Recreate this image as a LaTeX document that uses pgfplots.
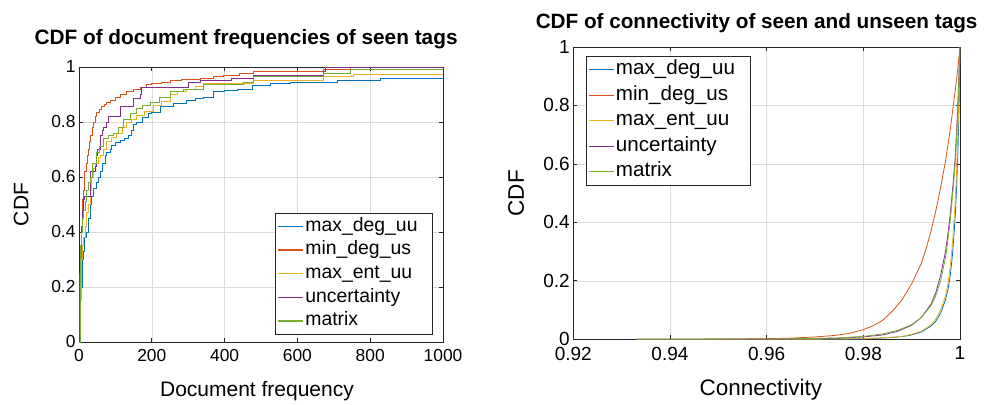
\documentclass[border=0pt]{standalone}
\usepackage{pgfplots}
\pgfplotsset{compat=1.18}
\usepackage{fontspec}
\setmainfont{Liberation Sans}
\definecolor{mblue}{rgb}{0,0.447,0.741}
\definecolor{morange}{rgb}{0.85,0.325,0.098}
\definecolor{myellow}{rgb}{0.929,0.694,0.125}
\definecolor{mpurple}{rgb}{0.494,0.184,0.556}
\definecolor{mgreen}{rgb}{0.466,0.674,0.188}
\pgfplotsset{
  mstyle/.style={
    scale only axis,
    anchor=south west,
    grid=major,
    grid style={draw=black!14, line width=0.6pt},
    axis line style={draw=black!85, line width=0.7pt},
    tick style={draw=black!85, line width=0.7pt},
    major tick length=4pt,
    tick align=inside,
    /pgf/number format/assume math mode=true,
    /pgf/number format/1000 sep={},
    xticklabel style={yshift=-4pt},
    legend cell align=left,
    legend image code/.code={\draw[#1, line width=1.2pt] (0pt,0pt) -- (25pt,0pt);},
    every axis plot/.append style={line width=0.8pt},
  }
}
\begin{document}
\begin{tikzpicture}
\path[use as bounding box] (0,0) rectangle (992pt,404pt);
% ---------------- left axis ----------------
\begin{axis}[mstyle,
  at={(79pt,62pt)}, width=364pt, height=275pt,
  xmin=0, xmax=1000, ymin=0, ymax=1,
  xtick={0,200,400,600,800,1000},
  ytick={0,0.2,0.4,0.6,0.8,1},
  yticklabels={0,0.2,0.4,0.6,0.8,1},
  ticklabel style={font=\fontsize{17.4}{20}\selectfont},
  xlabel={Document frequency},
  ylabel={CDF},
  label style={font=\fontsize{21}{24}\selectfont},
  xlabel style={at={(axis description cs:0.489,-0.199)}, anchor=base},
  ylabel style={at={(axis description cs:-0.159,0.5)}, anchor=center},
  title={\textbf{CDF of document frequencies of seen tags}},
  title style={font=\fontsize{20.8}{24}\selectfont, at={(axis description cs:0.459,1.08)}, anchor=base, yshift=-6pt},
  legend style={at={(0.97,0.029)}, anchor=south east, draw=black!85, fill=white,
    font=\fontsize{19.4}{22}\selectfont, inner sep=2pt, row sep=2.2pt,
    nodes={inner sep=1.5pt, text height=14pt, text depth=4.5pt}},
]
\addplot[draw=mblue, const plot] coordinates {
(0,0) (3,0.1) (5,0.2) (8,0.3) (12,0.33) (16,0.38) (21,0.4) (25,0.45) (30,0.5) (35,0.53)
(40,0.56) (48,0.58) (53,0.6) (58,0.62) (65,0.65) (72,0.68) (76,0.69) (85,0.7) (90,0.715)
(100,0.725) (113,0.733) (125,0.74) (136,0.75) (145,0.77) (150,0.79) (159,0.8) (175,0.815)
(190,0.83) (200,0.836) (223,0.855) (259,0.867) (296,0.88) (320,0.885) (342,0.89) (369,0.91)
(400,0.915) (434,0.92) (475,0.933) (525,0.94) (580,0.945) (709,0.95) (828,0.958) (1000,0.967)};
\addlegendentry{\makebox[123pt][l]{max\_deg\_uu}}
\addplot[draw=morange, const plot] coordinates {
(0,0) (2,0.2) (4,0.3) (6,0.4) (8,0.47) (10,0.52) (12,0.55) (14,0.6) (16,0.62) (19,0.65)
(22,0.68) (26,0.7) (29,0.73) (32,0.75) (36,0.78) (40,0.8) (44,0.82) (49,0.835) (55,0.845)
(62,0.855) (70,0.865) (76,0.87) (85,0.88) (99,0.89) (115,0.9) (131,0.91) (150,0.92)
(168,0.927) (185,0.935) (200,0.94) (225,0.945) (250,0.95) (280,0.955) (333,0.96) (370,0.965)
(397,0.97) (440,0.975) (479,0.985) (672,0.99) (745,1.0) (1000,1.0)};
\addlegendentry{min\_deg\_us}
\addplot[draw=myellow, const plot] coordinates {
(0,0) (3,0.15) (6,0.3) (9,0.35) (12,0.38) (17,0.42) (21,0.47) (26,0.5) (30,0.55) (34,0.6)
(39,0.63) (45,0.65) (52,0.67) (58,0.68) (67,0.7) (76,0.73) (90,0.745) (104,0.76) (120,0.78)
(131,0.8) (145,0.81) (159,0.824) (180,0.84) (204,0.86) (225,0.875) (250,0.9) (270,0.91)
(296,0.92) (320,0.93) (342,0.94) (479,0.95) (672,0.964) (754,0.973) (1000,0.98)};
\addlegendentry{max\_ent\_uu}
\addplot[draw=mpurple, const plot] coordinates {
(0,0) (2,0.25) (4,0.35) (7,0.42) (10,0.48) (12,0.52) (14,0.53) (30,0.6) (32,0.62) (44,0.64)
(47,0.68) (50,0.7) (58,0.75) (65,0.77) (67,0.78) (75,0.8) (81,0.82) (113,0.855) (149,0.885)
(168,0.9) (172,0.927) (300,0.945) (333,0.95) (420,0.96) (479,0.97) (672,0.985) (676,1.0) (1000,1.0)};
\addlegendentry{uncertainty}
\addplot[draw=mgreen, const plot] coordinates {
(0,0) (3,0.2) (5,0.35) (7,0.4) (10,0.45) (13,0.48) (16.5,0.51) (20,0.55) (25,0.58) (30,0.6)
(38,0.65) (48.6,0.69) (55,0.71) (67,0.74) (80,0.75) (94,0.76) (108,0.78) (122,0.81) (140,0.83)
(159,0.85) (175,0.86) (195,0.87) (220,0.89) (250,0.91) (287,0.92) (342,0.935) (452,0.945)
(479,0.964) (672,0.976) (745,0.99) (1000,0.994)};
\addlegendentry{matrix}
\end{axis}
% ---------------- right axis ----------------
\begin{axis}[mstyle,
  at={(573.3pt,64.7pt)}, width=386.7pt, height=292.3pt,
  xmin=0.92, xmax=1, ymin=0, ymax=1,
  xtick={0.92,0.94,0.96,0.98,1},
  xticklabels={0.92,0.94,0.96,0.98,1},
  ytick={0,0.2,0.4,0.6,0.8,1},
  yticklabels={0,0.2,0.4,0.6,0.8,1},
  ticklabel style={font=\fontsize{19}{22}\selectfont},
  xlabel={Connectivity},
  ylabel={CDF},
  label style={font=\fontsize{22.5}{26}\selectfont},
  xlabel style={at={(axis description cs:0.485,-0.193)}, anchor=base},
  ylabel style={at={(axis description cs:-0.148,0.5)}, anchor=center},
  title={\textbf{CDF of connectivity of seen and unseen tags}},
  title style={font=\fontsize{20.7}{24}\selectfont, at={(axis description cs:0.474,1.062)}, anchor=base, yshift=-6pt},
  legend style={at={(0.033,0.969)}, anchor=north west, draw=black!85, fill=white,
    font=\fontsize{20.6}{24}\selectfont, inner sep=2pt, row sep=2.5pt,
    nodes={inner sep=1.5pt, text height=15pt, text depth=5pt}},
]
\addplot[draw=mblue] coordinates {
(0.9331,0) (0.97,0.0004) (0.98,0.0015) (0.985,0.005) (0.988,0.009) (0.99,0.015) (0.992,0.025)
(0.994,0.045) (0.995,0.062) (0.996,0.09) (0.997,0.135) (0.9975,0.17) (0.998,0.22) (0.9985,0.30)
(0.999,0.42) (0.9993,0.52) (0.9996,0.66) (0.9998,0.80) (1,1)};
\addlegendentry{\makebox[131pt][l]{max\_deg\_uu}}
\addplot[draw=morange] coordinates {
(0.9331,0) (0.94,0.0002) (0.95,0.0006) (0.955,0.0012) (0.96,0.002) (0.965,0.004) (0.97,0.008)
(0.974,0.013) (0.977,0.020) (0.98,0.033) (0.982,0.046) (0.984,0.065) (0.986,0.096) (0.988,0.135)
(0.99,0.19) (0.991,0.225) (0.992,0.26) (0.993,0.31) (0.994,0.37) (0.995,0.44) (0.996,0.52)
(0.997,0.61) (0.998,0.72) (0.999,0.85) (0.9995,0.92) (1,1)};
\addlegendentry{min\_deg\_us}
\addplot[draw=myellow] coordinates {
(0.9331,0) (0.97,0.0005) (0.98,0.002) (0.985,0.006) (0.988,0.010) (0.99,0.017) (0.992,0.028)
(0.994,0.05) (0.995,0.07) (0.996,0.10) (0.997,0.15) (0.9975,0.19) (0.998,0.25) (0.9985,0.34)
(0.999,0.47) (0.9993,0.58) (0.9996,0.73) (0.9998,0.85) (1,1)};
\addlegendentry{max\_ent\_uu}
\addplot[draw=mpurple] coordinates {
(0.9331,0) (0.96,0.0005) (0.97,0.002) (0.975,0.004) (0.98,0.008) (0.984,0.015) (0.987,0.027)
(0.99,0.048) (0.992,0.075) (0.994,0.12) (0.995,0.16) (0.996,0.22) (0.997,0.30) (0.9975,0.36)
(0.998,0.43) (0.9985,0.52) (0.999,0.62) (0.9995,0.78) (1,1)};
\addlegendentry{uncertainty}
\addplot[draw=mgreen] coordinates {
(0.9331,0) (0.96,0.001) (0.97,0.003) (0.975,0.005) (0.98,0.010) (0.984,0.018) (0.987,0.030)
(0.99,0.050) (0.992,0.075) (0.994,0.115) (0.995,0.15) (0.996,0.20) (0.997,0.28) (0.9975,0.34)
(0.998,0.41) (0.9985,0.50) (0.999,0.60) (0.9995,0.76) (1,1)};
\addlegendentry{matrix}
\end{axis}
\end{tikzpicture}
\end{document}
